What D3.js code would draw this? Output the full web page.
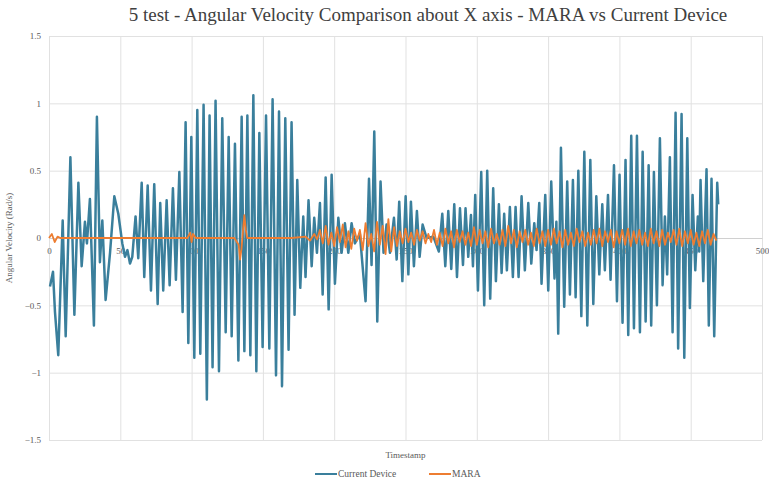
<!DOCTYPE html>
<html>
<head>
<meta charset="utf-8">
<script src="https://cdn.jsdelivr.net/npm/d3@7"></script>
<style>
    body { margin: 0; background: #fff; }
    text { font-family: "Liberation Serif", "DejaVu Serif", serif; }
</style>
</head>
<body>
<div id="chart-area"></div>
<script>
// Current Device - timestamps and angular velocity (rad/s), read at the turning points
const deviceT = [0.7, 2.8, 4.2, 6.5, 9.6, 11.7, 15, 17.8, 20.6, 22.9, 25.2, 26.6, 28.7, 31.5, 33.6, 35.7, 37.4, 39.7,
    42.8, 45.8, 48.6, 51.4, 53.3, 55, 56.8, 58.4, 60.7, 62.6, 65, 66.8, 69.2, 71.5, 73.8, 76.2, 78, 80.1, 82.5, 84.6,
    86.9, 89, 91.4, 93.7, 95.8, 97.7, 99.8, 101.9, 104, 106.1, 108.4, 110.7, 112.6, 114.7, 116.8, 119.2, 121.5, 123.9,
    126, 128.1, 130.4, 132.8, 135.1, 137, 139.1, 141.2, 143.3, 145.4, 147.5, 149.8, 152.2, 154.5, 156.8, 159.2, 161.3,
    163.4, 165.7, 168, 170.1, 172.2, 174.1, 176.2, 178.3, 179.9, 182, 184.2, 186, 187.9, 190, 191.9, 194, 196.1, 198.2,
    200.5, 202.9, 205.2, 207.5, 209.9, 212.2, 214.5, 218, 222, 224.4, 226.2, 228.1, 230.2, 232.5, 234.6, 236.7, 239.1,
    241.9, 243.8, 245.6, 247.8, 250.1, 252, 253.8, 255.9, 258, 259.9, 262, 264.8, 269.5, 273.4, 275.8, 277.9, 280,
    282.1, 284.2, 286.1, 288.2, 290.3, 292.1, 294, 295.9, 297.3, 298.9, 300.8, 303.1, 305.2, 307.3, 309.4, 311.5, 313.4,
    315.5, 317.4, 319.2, 321.1, 323.2, 325.3, 327.2, 329.3, 331.4, 333.7, 336.1, 338.2, 340.3, 341.9, 343.8, 345.4, 348,
    350.1, 352.2, 354.5, 355.8, 357.1, 359, 361.3, 363.4, 365.3, 367.4, 369.3, 371.2, 373.3, 375.4, 377.5, 379.6, 381.7,
    383.8, 385.9, 388, 389.8, 392, 393.8, 396.2, 398.3, 400.1, 402.2, 404.3, 406.2, 408.3, 410.2, 412.3, 414.4, 416.3,
    418.4, 420.5, 422.3, 424.2, 426.3, 428.4, 430.3, 431.9, 433.5, 435.4, 437.3, 439.4, 441.2, 443.6, 445.5, 447.6, 449.4,
    451.3, 453.2, 455, 456, 456.9, 458.8, 461.1, 462.7, 464.6, 466.5, 468.6, 469.3];
const deviceV = [-0.36, -0.25, -0.55, -0.87, 0.13, -0.73, 0.60, -0.57, 0.41, -0.21, 0.12, -0.04, 0.29, -0.65, 0.90, -0.18, 0.13, -0.46,
    -0.11, 0.31, 0.18, -0.04, -0.14, -0.09, -0.19, -0.14, 0.16, -0.15, 0.41, -0.29, 0.39, -0.39, 0.40, -0.49, 0.26, -0.39, 0.28, -0.35,
    0.37, -0.31, 0.49, -0.55, 0.86, -0.78, 0.75, -0.89, 0.95, -0.86, 0.99, -1.20, 0.91, -0.96, 1.02, -0.99, 0.89, -0.70,
    0.75, -0.73, 0.70, -0.91, 0.90, -0.84, 0.91, -0.87, 1.06, -0.99, 0.78, -0.81, 0.91, -0.82, 1.03, -1.02, 0.94,
    -1.10, 0.89, -0.83, 0.86, -0.57, 0.43, -0.37, 0.16, -0.29, 0.28, -0.21, 0.15, -0.11, 0.26, -0.42, 0.45, -0.53, 0.47,
    -0.34, 0.15, -0.11, 0.11, -0.11, 0.11, -0.04, 0.03, -0.47, 0.44, -0.20, 0.79, -0.62, 0.42, -0.11, 0.10, -0.11,
    0.15, -0.16, 0.27, -0.32, 0.31, -0.27, 0.27, -0.21, 0.20, -0.14, 0.10, 0, 0.01, -0.10, 0.18, -0.21, 0.20,
    -0.23, 0.25, -0.29, 0.22, -0.20, 0.22, -0.14, 0.17, -0.21, 0.32, -0.39, 0.49, -0.50, 0.50, -0.45, 0.37, -0.32,
    0.25, -0.26, 0.18, -0.24, 0.23, -0.29, 0.23, -0.29, 0.31, -0.24, 0.26, -0.19, 0.11, -0.09, 0.26, -0.34, 0.32,
    -0.39, 0.42, -0.30, 0.12, -0.71, 0.67, -0.51, 0.42, -0.42, 0.43, -0.44, 0.50, -0.58, 0.64, -0.65, 0.58, -0.49,
    0.31, -0.27, 0.25, -0.24, 0.32, -0.31, 0.54, -0.47, 0.47, -0.63, 0.58, -0.72, 0.76, -0.67, 0.76, -0.70, 0.64,
    -0.62, 0.54, -0.65, 0.49, -0.50, 0.74, -0.35, 0.16, -0.27, 0.60, -0.70, 0.93, -0.82, 0.92, -0.89, 0.74, -0.52,
    0.32, -0.24, 0.16, -0.10, 0.43, -0.32, 0.51, -0.65, 0.44, -0.73, 0.41, 0.25];

// MARA - timestamps and angular velocity (rad/s)
const maraT = [0, 2, 4, 6, 8, 20, 40, 60, 80, 97, 99, 100, 101, 103, 130, 133, 134, 135, 136, 137, 138, 139, 150, 170,
    180, 183, 186, 188, 190, 192, 194, 196, 198, 200, 202, 204, 206, 208, 210, 212, 214, 216, 218, 220, 222, 224, 226,
    228, 230, 232, 234, 236, 238, 240, 242, 244, 246, 248, 250, 252, 254, 256, 258, 260, 262, 264, 266, 268, 270, 272,
    274, 276, 278, 280, 282, 284, 286, 288, 290, 292, 294, 296, 298, 300, 302, 304, 306, 308, 310, 312, 314, 316, 318,
    320, 322, 324, 326, 328, 330, 332, 334, 336, 338, 340, 342, 344, 346, 348, 350, 352, 354, 356, 358, 360, 362, 364,
    366, 368, 370, 372, 374, 376, 378, 380, 382, 384, 386, 388, 390, 392, 394, 396, 398, 400, 402, 404, 406, 408, 410,
    412, 414, 416, 418, 420, 422, 424, 426, 428, 430, 432, 434, 436, 438, 440, 442, 444, 446, 448, 450, 452, 454, 456,
    458, 460, 462, 464, 466, 468];
const maraV = [0, 0.03, -0.03, 0.01, 0, 0, 0, 0, 0, 0, 0.04, -0.03, 0.03, 0, 0, -0.05, -0.16, -0.08, 0.05, 0.17, 0.06, 0, 0, 0,
    0.01, -0.02, 0.03, -0.01, 0.06, -0.04, 0.09, -0.05, 0.04, -0.06, 0.08, -0.03, 0.10, -0.07, 0.05, -0.08, 0.07, -0.02, 0.06, -0.09, 0.11, -0.06, 0.03,
    -0.10, 0.12, -0.05, 0.09, -0.12, 0.14, -0.10, 0.08, -0.06, 0.05, -0.04, 0.07, -0.03, 0.04, -0.05, 0.06, -0.02, 0.05, -0.04, 0.03, -0.03, 0.06, -0.05,
    0.04, -0.06, 0.07, -0.04, 0.05, -0.07, 0.06, -0.03, 0.05, -0.05, 0.04, -0.06, 0.08, -0.05, 0.06, -0.04, 0.05, -0.07, 0.07, -0.04, 0.03, -0.05, 0.06,
    -0.06, 0.09, -0.04, 0.06, -0.07, 0.05, -0.03, 0.06, -0.05, 0.04, -0.06, 0.07, -0.04, 0.05, -0.06, 0.06, -0.05, 0.07, -0.04, 0.05, -0.07, 0.06, -0.05,
    0.04, -0.06, 0.07, -0.03, 0.05, -0.06, 0.04, -0.05, 0.06, -0.04, 0.07, -0.06, 0.05, -0.03, 0.06, -0.07, 0.05, -0.04, 0.06, -0.05, 0.07, -0.06, 0.05,
    -0.04, 0.06, -0.05, 0.04, -0.06, 0.07, -0.04, 0.05, -0.06, 0.06, -0.05, 0.04, -0.03, 0.06, -0.05, 0.07, -0.06, 0.05, -0.04, 0.06, -0.05, 0.04, -0.06,
    0.05, -0.04, 0.06, -0.05, 0.03, -0.02];

const xTicks = [0, 50, 100, 150, 200, 250, 300, 350, 400, 450, 500];
const yTicks = [-1.5, -1, -0.5, 0, 0.5, 1, 1.5];
const seriesNames = ["Current Device", "MARA"];
const seriesColors = ["#3a7f9c", "#ed7d31"];

const serif = "'Liberation Serif', 'DejaVu Serif', serif";

class LineVis {
    constructor(_parentElement) {
        this.parentElement = _parentElement;
        this.device = deviceT.map((t, i) => ({ t: t, v: deviceV[i] }));
        this.mara = maraT.map((t, i) => ({ t: t, v: maraV[i] }));
        this.initVis();
    }

    initVis() {
        let vis = this;

        vis.margin = { top: 36, right: 7, bottom: 43, left: 49 };
        vis.width = 769 - vis.margin.left - vis.margin.right;
        vis.height = 483 - vis.margin.top - vis.margin.bottom;

        vis.svg = d3.select("#" + vis.parentElement)
            .append("svg")
            .attr("width", 769)
            .attr("height", 483)
            .append("g")
            .attr("transform", `translate(${vis.margin.left},${vis.margin.top})`);

        vis.x = d3.scaleLinear().domain([0, 500]).range([0, vis.width]);
        vis.y = d3.scaleLinear().domain([-1.5, 1.5]).range([vis.height, 0]);

        // Grid lines
        vis.svg.append("g")
            .attr("class", "grid")
            .call(d3.axisLeft(vis.y).tickValues(yTicks).tickSize(-vis.width).tickFormat(""))
            .call(g => g.select(".domain").remove())
            .call(g => g.selectAll(".tick line").attr("stroke", "#e1e1e1"));

        vis.svg.append("g")
            .attr("class", "grid")
            .attr("transform", `translate(0,${vis.height})`)
            .call(d3.axisBottom(vis.x).tickValues(xTicks).tickSize(-vis.height).tickFormat(""))
            .call(g => g.select(".domain").remove())
            .call(g => g.selectAll(".tick line").attr("stroke", "#e1e1e1"));

        // Y axis labels
        vis.svg.append("g")
            .call(d3.axisLeft(vis.y).tickValues(yTicks).tickSize(0).tickPadding(8).tickFormat(d3.format("")))
            .call(g => g.select(".domain").remove())
            .call(g => g.selectAll(".tick text")
                .attr("fill", "#595959")
                .style("font-size", "9px")
                .style("font-family", serif));

        // X axis crossing at zero
        vis.svg.append("g")
            .attr("transform", `translate(0,${vis.y(0)})`)
            .call(d3.axisBottom(vis.x).tickValues(xTicks).tickSize(0).tickPadding(10).tickFormat(d3.format("")))
            .call(g => g.select(".domain").attr("stroke", "#d0d0d0"))
            .call(g => g.selectAll(".tick text")
                .attr("fill", "#595959")
                .style("font-size", "9px")
                .style("font-family", serif));

        vis.line = d3.line()
            .x(d => vis.x(d.t))
            .y(d => vis.y(d.v));

        vis.svg.append("path")
            .datum(vis.device)
            .attr("fill", "none")
            .attr("stroke", seriesColors[0])
            .attr("stroke-width", 2.5)
            .attr("stroke-linejoin", "round")
            .attr("d", vis.line);

        vis.svg.append("path")
            .datum(vis.mara)
            .attr("fill", "none")
            .attr("stroke", seriesColors[1])
            .attr("stroke-width", 1.8)
            .attr("stroke-linejoin", "round")
            .attr("d", vis.line);

        // Title
        vis.svg.append("text")
            .attr("x", 428 - vis.margin.left)
            .attr("y", 21 - vis.margin.top)
            .attr("text-anchor", "middle")
            .style("font-family", serif)
            .style("font-size", "19px")
            .style("fill", "#404040")
            .text("5 test - Angular Velocity Comparison about X axis - MARA vs Current Device");

        // Axis titles
        vis.svg.append("text")
            .attr("x", vis.width / 2)
            .attr("y", 458 - vis.margin.top)
            .attr("text-anchor", "middle")
            .style("font-family", serif)
            .style("font-size", "9px")
            .style("fill", "#595959")
            .text("Timestamp");

        vis.svg.append("text")
            .attr("transform", `translate(${12 - vis.margin.left},${vis.height / 2}) rotate(-90)`)
            .attr("text-anchor", "middle")
            .style("font-family", serif)
            .style("font-size", "9px")
            .style("fill", "#595959")
            .text("Angular Velocity (Rad/s)");

        // Legend
        let legend = vis.svg.append("g")
            .attr("transform", `translate(${315 - vis.margin.left},${474 - vis.margin.top})`);

        let entries = legend.selectAll(".legend-entry")
            .data(seriesNames)
            .join("g")
            .attr("class", "legend-entry")
            .attr("transform", (d, i) => `translate(${i * 114},0)`);

        entries.append("line")
            .attr("x1", 0)
            .attr("x2", 22)
            .attr("stroke", (d, i) => seriesColors[i])
            .attr("stroke-width", 2);

        entries.append("text")
            .attr("x", 23)
            .attr("y", 3)
            .style("font-family", serif)
            .style("font-size", "9.5px")
            .style("fill", "#595959")
            .text(d => d);
    }
}

new LineVis("chart-area");
</script>
</body>
</html>
